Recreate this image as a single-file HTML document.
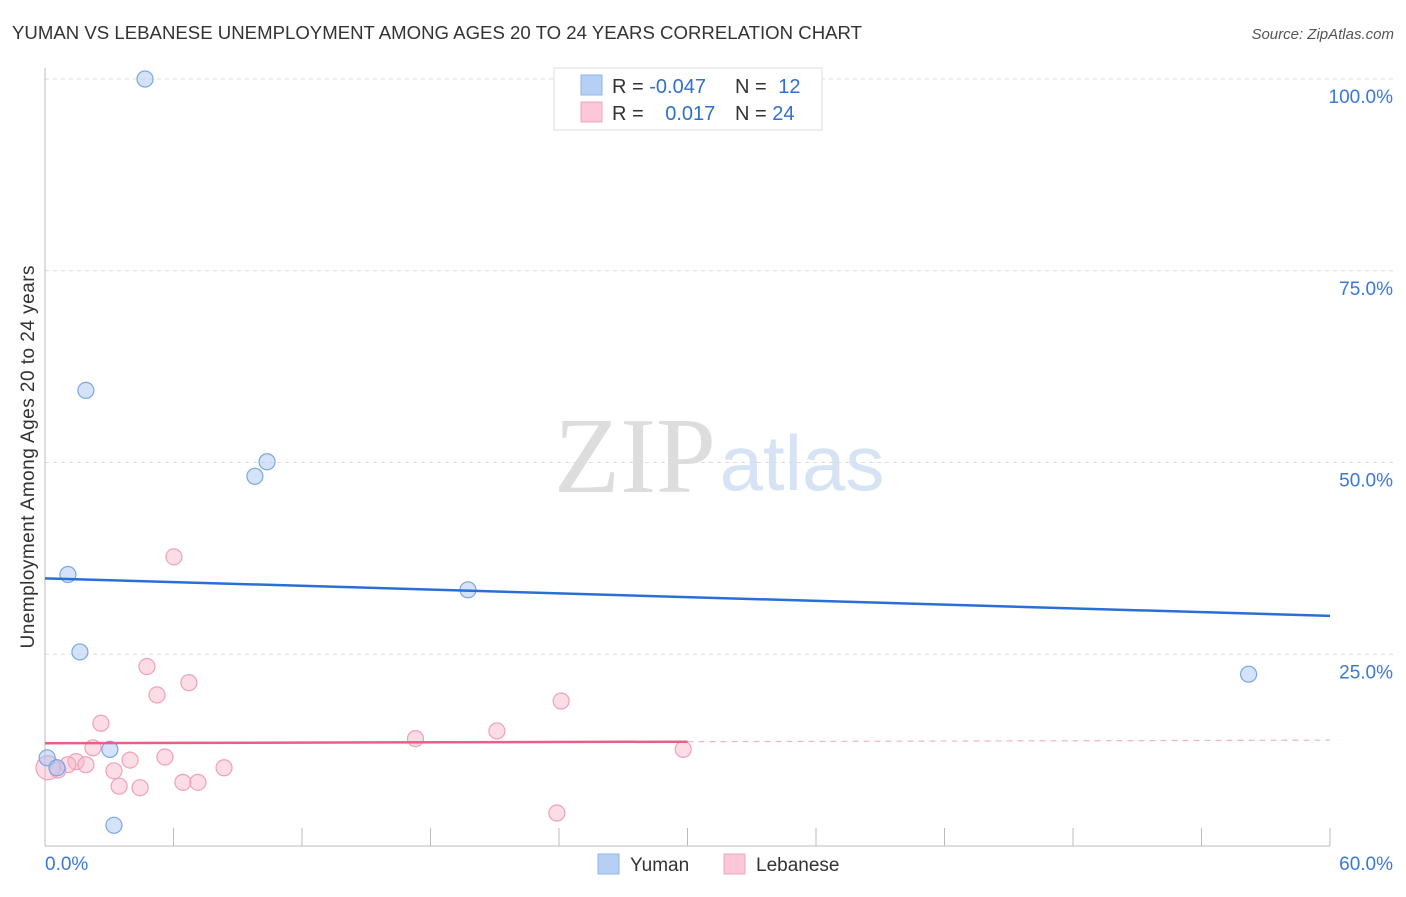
<!DOCTYPE html>
<html><head><meta charset="utf-8"><style>
body{margin:0;background:#fff;font-family:"Liberation Sans",sans-serif}
</style></head><body>
<svg id="c" width="1406" height="892" xmlns="http://www.w3.org/2000/svg" font-family="Liberation Sans, sans-serif">
<text x="12" y="39" font-size="18.6" fill="#333" textLength="850">YUMAN VS LEBANESE UNEMPLOYMENT AMONG AGES 20 TO 24 YEARS CORRELATION CHART</text>
<text x="1394" y="39" font-size="15" fill="#555" font-style="italic" text-anchor="end">Source: ZipAtlas.com</text>
<text x="635" y="492" font-size="108" fill="#ddd" font-family="Liberation Serif, serif" text-anchor="middle">ZIP</text>
<text x="802" y="490" font-size="78" fill="#d6e3f5" text-anchor="middle">atlas</text>
<g id="grid"></g>
<g id="axes"></g>
<g id="marks"></g>
<text transform="translate(34,457) rotate(-90)" font-size="19" fill="#333" text-anchor="middle" textLength="383">Unemployment Among Ages 20 to 24 years</text>
<g>
<rect x="554" y="68" width="268" height="62" fill="#fff" stroke="#ddd"/>
<rect x="581" y="75" width="21" height="20" fill="#b6d0f5" stroke="#8fb4ea"/>
<rect x="581" y="102" width="21" height="20" fill="#fcc7d6" stroke="#f0a4bb"/>
<text x="612" y="93" font-size="20" fill="#333">R = <tspan fill="#2f6fd0">-0.047</tspan></text>
<text x="735" y="93" font-size="20" fill="#333">N = <tspan fill="#2f6fd0" dx="6">12</tspan></text>
<text x="612" y="120" font-size="20" fill="#333">R = <tspan fill="#2f6fd0" dx="16">0.017</tspan></text>
<text x="735" y="120" font-size="20" fill="#333">N = <tspan fill="#2f6fd0">24</tspan></text>
</g>
<g>
<rect x="598" y="854" width="21" height="20" fill="#b6d0f5" stroke="#8fb4ea"/>
<text x="630" y="871" font-size="19" fill="#333">Yuman</text>
<rect x="724" y="854" width="21" height="20" fill="#fcc7d6" stroke="#f0a4bb"/>
<text x="756" y="871" font-size="19" fill="#333">Lebanese</text>
</g>
</svg>
<script>
const yTicks=[25,50,75,100];
const yTickLabels=["25.0%","50.0%","75.0%","100.0%"];
const yumanX=[4.67,1.91,9.8,10.37,1.07,19.75,1.63,3.03,3.22,56.2,0.1,0.56];
const yumanY=[100,59.4,48.2,50.1,35.4,33.4,25.3,12.6,2.7,22.4,11.5,10.2];
const lebX=[6.02,4.76,6.72,5.23,24.1,2.61,21.1,17.3,2.24,29.8,5.6,3.97,1.45,1.91,1.07,8.36,3.22,0.6,0.14,6.44,7.14,3.46,4.44,23.9];
const lebY=[37.7,23.4,21.3,19.7,18.9,16.0,15.0,14.0,12.8,12.6,11.6,11.2,11.0,10.6,10.6,10.2,9.8,9.9,10.2,8.3,8.3,7.8,7.6,4.3];
const yumanTrend=[34.9,30.0];
const lebTrend=[13.4,13.8];
const ns="http://www.w3.org/2000/svg";
const sx=v=>45+v/60*1285, sy=v=>846-v/100*767;
function mk(t,a,p){const e=document.createElementNS(ns,t);for(const k in a)e.setAttribute(k,a[k]);p.appendChild(e);return e;}
const grid=document.getElementById('grid'),axes=document.getElementById('axes'),marks=document.getElementById('marks');
yTicks.forEach((t,i)=>{
 const l=mk('line',{x1:45,x2:1394,y1:sy(t),y2:sy(t),stroke:'#ddd','stroke-dasharray':'4,4'},grid);
 
 
 const tx=mk('text',{x:1393,y:sy(t)+24,'font-size':19,fill:'#3a78d8','text-anchor':'end'},axes);
 tx.textContent=yTickLabels[i];
 
 
});
mk('line',{x1:45,x2:45,y1:68,y2:846,stroke:'#bbb'},axes);
mk('line',{x1:45,x2:1330,y1:846,y2:846,stroke:'#bbb'},axes);
for(let i=0;i<=10;i++){const x=sx(i*6);mk('line',{x1:x,x2:x,y1:828,y2:846,stroke:'#bbb'},axes);}
const x0=mk('text',{x:45,y:870,'font-size':19,fill:'#3a78d8'},axes);x0.textContent='0.0%';


const x1=mk('text',{x:1393,y:870,'font-size':19,fill:'#3a78d8','text-anchor':'end'},axes);x1.textContent='60.0%';


lebX.forEach((v,i)=>{
 const c=mk('circle',{cx:sx(v),cy:sy(lebY[i]),r:i==18?12:8,fill:'rgba(249,180,200,0.45)',stroke:'#f0a0b8','stroke-width':1.2},marks);
 
 
});
yumanX.forEach((v,i)=>{
 const c=mk('circle',{cx:sx(v),cy:sy(yumanY[i]),r:8,fill:'rgba(170,200,245,0.5)',stroke:'#7aa6e4','stroke-width':1.2},marks);
 
 
});
const bt=mk('line',{x1:sx(0),x2:sx(60),y1:sy(yumanTrend[0]),y2:sy(yumanTrend[1]),stroke:'#2a6fd6','stroke-width':2.5},marks);


const ym=lebTrend[0]+(lebTrend[1]-lebTrend[0])*30/60;
const pt=mk('line',{x1:sx(0),x2:sx(30),y1:sy(lebTrend[0]),y2:sy(ym),stroke:'#e8608a','stroke-width':2.5},marks);


const pd=mk('line',{x1:sx(30),x2:sx(60),y1:sy(ym),y2:sy(lebTrend[1]),stroke:'#f0b4c6','stroke-width':1.2,'stroke-dasharray':'6,5'},marks);


</script>
</body></html>
